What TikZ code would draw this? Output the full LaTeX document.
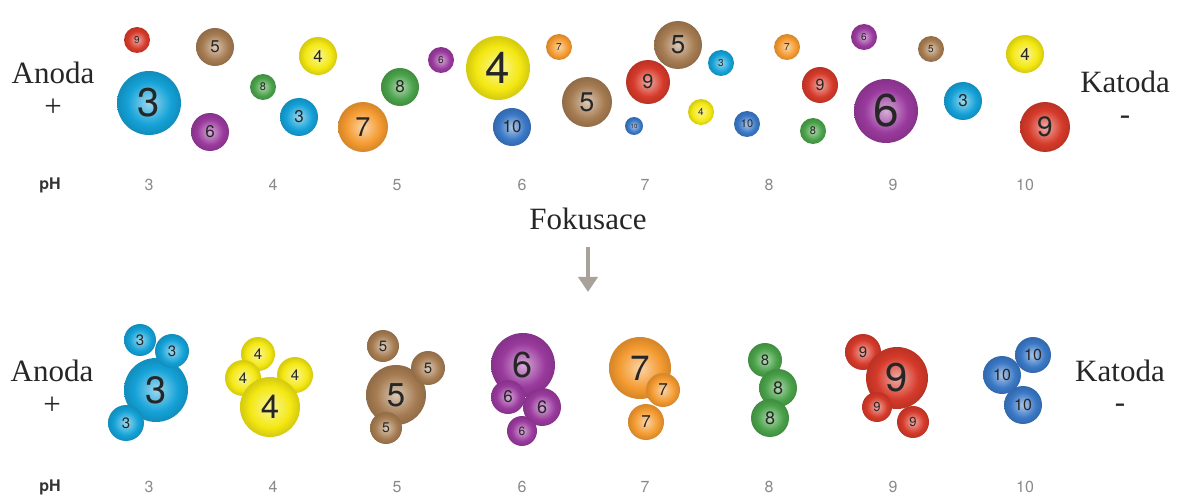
\documentclass[tikz,border=0pt]{standalone}
\usepackage{fontspec}
\setmainfont{Liberation Serif}
\newfontfamily\hv{TeX Gyre Heros}
\usetikzlibrary{arrows.meta}
\definecolor{cblue}{HTML}{14A2D8}
\definecolor{cyellow}{HTML}{F4E812}
\definecolor{cbrown}{HTML}{A67C52}
\definecolor{cpurple}{HTML}{9A3A9E}
\definecolor{cgreen}{HTML}{4AA24A}
\definecolor{corange}{HTML}{F49A30}
\definecolor{cred}{HTML}{D63A2A}
\definecolor{cbluet}{HTML}{3A78C6}
\definecolor{phgray}{HTML}{8A8A8A}
\definecolor{arrgray}{HTML}{A8A29A}
\colorlet{bubin}{white}\colorlet{bubmid}{gray}\colorlet{bubout}{black}
\pgfdeclareradialshading[bubin,bubmid,bubout]{bubble}{\pgfpoint{0bp}{0bp}}{color(0bp)=(bubin); color(17bp)=(bubmid); color(24bp)=(bubout); color(25bp)=(bubout); color(50bp)=(bubout)}
\tikzset{
  bub/.style n args={3}{circle, inner sep=0pt, minimum size=#2*2pt,
    /utils/exec={\colorlet{bubin}{#1!42!white}\colorlet{bubmid}{#1}\colorlet{bubout}{#1!88!black}},
    shade, shading=bubble, text=black!85,
    font=\hv\fontsize{#3}{#3}\selectfont},
  lbl/.style={font=\fontsize{31}{36}\selectfont, text=black!85, inner sep=0pt},
  phl/.style={font=\hv\bfseries\fontsize{16}{18}\selectfont, text=black!80, inner sep=0pt},
  phn/.style={font=\hv\fontsize{16}{18}\selectfont, text=phgray, inner sep=0pt}
}
\begin{document}
\begin{tikzpicture}[x=1pt,y=-1pt]
\useasboundingbox (0,0) rectangle (1179,497);
% top labels
\node[lbl] (an1) at (53,73) {Anoda};
\node[lbl] (pl1) at (53,108) {+};
\node[lbl] (ka1) at (1125,82) {Katoda};
\node[lbl] (mi1) at (1125,120) {-};
% top bubbles
\node[bub={cred}{13}{10}] (t1) at (137,40) {9};
\node[bub={cbrown}{19}{17}] (t2) at (215,47) {5};
\node[bub={cyellow}{19}{17}] (t3) at (318,56) {4};
\node[bub={cblue}{32}{40}] (t4) at (149,103) {3};
\node[bub={cpurple}{19}{17}] (t5) at (210,132) {6};
\node[bub={cgreen}{13}{11}] (t6) at (263,87) {8};
\node[bub={cblue}{19}{17}] (t7) at (299,117) {3};
\node[bub={corange}{25}{27}] (t8) at (363,127) {7};
\node[bub={cgreen}{19}{17}] (t9) at (400,87) {8};
\node[bub={cpurple}{13}{10}] (t10) at (441,60) {6};
\node[bub={cyellow}{32}{44}] (t11) at (498,68) {4};
\node[bub={cbluet}{19}{17}] (t12) at (512,127) {10};
\node[bub={corange}{13}{10}] (t13) at (559,47) {7};
\node[bub={cbrown}{25}{27}] (t14) at (587,102) {5};
\node[bub={cbrown}{24}{26}] (t15) at (678,45) {5};
\node[bub={cred}{22}{20}] (t16) at (648,82) {9};
\node[bub={cblue}{13}{10}] (t17) at (721,63) {3};
\node[bub={cyellow}{13}{10}] (t18) at (701,112) {4};
\node[bub={cbluet}{9}{6}] (t19) at (634,126) {10};
\node[bub={cbluet}{13}{11}] (t20) at (747,124) {10};
\node[bub={corange}{13}{10}] (t21) at (787,47) {7};
\node[bub={cpurple}{13}{10}] (t22) at (864,37) {6};
\node[bub={cred}{18}{16}] (t23) at (820,85) {9};
\node[bub={cgreen}{13}{11}] (t24) at (813,131) {8};
\node[bub={cpurple}{32}{46}] (t25) at (886,111) {6};
\node[bub={cbrown}{13}{10}] (t26) at (931,49) {5};
\node[bub={cblue}{19}{17}] (t27) at (963,101) {3};
\node[bub={cyellow}{19}{17}] (t28) at (1025,54) {4};
\node[bub={cred}{25}{28}] (t29) at (1045,127) {9};
% top pH
\node[phl] (ph1) at (50,185) {pH};
\node[phn] (a3) at (149,185) {3};
\node[phn] (a4) at (273,185) {4};
\node[phn] (a5) at (397,185) {5};
\node[phn] (a6) at (522,185) {6};
\node[phn] (a7) at (645,185) {7};
\node[phn] (a8) at (769,185) {8};
\node[phn] (a9) at (893,185) {9};
\node[phn] (a10) at (1025,185) {10};
% focusing
\node[lbl] (fok) at (588,219) {Fokusace};
\coordinate (arrs) at (588,247);
\coordinate (arre) at (588,292);
\draw[line width=4.5pt, arrgray, -{Triangle[width=19pt,length=15pt]}] (arrs) -- (arre);
% bottom labels
\node[lbl] (an2) at (52,371) {Anoda};
\node[lbl] (pl2) at (52,406) {+};
\node[lbl] (ka2) at (1120,371) {Katoda};
\node[lbl] (mi2) at (1120,408) {-};
% bottom clusters
\node[bub={cblue}{32}{38}] (b3) at (156,390) {3};
\node[bub={cblue}{16}{15}] (b3a) at (140,340) {3};
\node[bub={cblue}{17}{15}] (b3b) at (172,351) {3};
\node[bub={cblue}{18}{15}] (b3c) at (126,423) {3};
\node[bub={cyellow}{17}{15}] (b4a) at (258,354) {4};
\node[bub={cyellow}{18}{15}] (b4b) at (243,378) {4};
\node[bub={cyellow}{18}{15}] (b4c) at (295,375) {4};
\node[bub={cyellow}{30}{33}] (b4) at (270,407) {4};
\node[bub={cbrown}{30}{33}] (b5) at (396,395) {5};
\node[bub={cbrown}{16}{15}] (b5a) at (383,346) {5};
\node[bub={cbrown}{17}{15}] (b5b) at (428,368) {5};
\node[bub={cbrown}{16}{14}] (b5c) at (386,428) {5};
\node[bub={cpurple}{32}{36}] (b6) at (523,365) {6};
\node[bub={cpurple}{17}{17}] (b6a) at (508,397) {6};
\node[bub={cpurple}{19}{18}] (b6b) at (542,407) {6};
\node[bub={cpurple}{15}{12}] (b6c) at (522,431) {6};
\node[bub={corange}{31}{35}] (b7) at (640,368) {7};
\node[bub={corange}{17}{17}] (b7a) at (663,390) {7};
\node[bub={corange}{18}{17}] (b7b) at (646,422) {7};
\node[bub={cgreen}{17}{15}] (b8a) at (765,360) {8};
\node[bub={cgreen}{19}{18}] (b8b) at (778,388) {8};
\node[bub={cgreen}{19}{18}] (b8c) at (770,418) {8};
\node[bub={cred}{18}{15}] (b9a) at (863,352) {9};
\node[bub={cred}{31}{40}] (b9) at (897,378) {9};
\node[bub={cred}{15}{13}] (b9b) at (877,407) {9};
\node[bub={cred}{16}{13}] (b9c) at (913,422) {9};
\node[bub={cbluet}{18}{16}] (b10a) at (1033,355) {10};
\node[bub={cbluet}{19}{16}] (b10b) at (1002,375) {10};
\node[bub={cbluet}{19}{16}] (b10c) at (1023,405) {10};
% bottom pH
\node[phl] (ph2) at (50,487) {pH};
\node[phn] (c3) at (149,487) {3};
\node[phn] (c4) at (273,487) {4};
\node[phn] (c5) at (397,487) {5};
\node[phn] (c6) at (522,487) {6};
\node[phn] (c7) at (645,487) {7};
\node[phn] (c8) at (769,487) {8};
\node[phn] (c9) at (893,487) {9};
\node[phn] (c10) at (1025,487) {10};
\end{tikzpicture}
\end{document}
